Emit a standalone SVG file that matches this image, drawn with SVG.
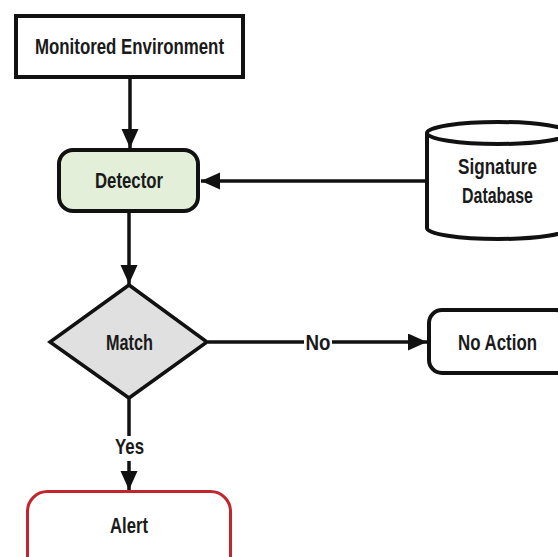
<svg xmlns="http://www.w3.org/2000/svg" width="558" height="557" viewBox="0 0 558 557">
<style>
text{font-family:"Liberation Sans",Arial,sans-serif;font-weight:bold;font-size:22px;fill:#1a1a1a;text-anchor:middle}
.node{stroke:#111;stroke-width:4;fill:#fff}
.conn{stroke:#111;stroke-width:3.5;fill:none}
.bg{fill:#fff}
</style>
<defs>
<marker id="ah" markerUnits="userSpaceOnUse" markerWidth="20" markerHeight="18" refX="19" refY="8.5" orient="auto">
<path d="M0,0 L19,8.5 L0,17 z" fill="#111"/>
</marker>
</defs>
<rect width="558" height="557" fill="#fff"/>
<g id="connectors">
<line class="conn" x1="130" y1="79" x2="130" y2="148" marker-end="url(#ah)"/>
<line class="conn" x1="426" y1="181" x2="201" y2="181" marker-end="url(#ah)"/>
<line class="conn" x1="129" y1="213" x2="129" y2="284" marker-end="url(#ah)"/>
<line class="conn" x1="208" y1="342" x2="427" y2="342" marker-end="url(#ah)"/>
<line class="conn" x1="129" y1="399" x2="129" y2="490" marker-end="url(#ah)"/>
<rect class="bg" x="304" y="332" width="28" height="20"/>
<text x="318" y="350" textLength="25" lengthAdjust="spacingAndGlyphs">No</text>
<rect class="bg" x="112" y="436" width="34" height="25"/>
<text x="129.5" y="454" textLength="29" lengthAdjust="spacingAndGlyphs">Yes</text>
</g>
<g id="monitored">
<rect class="node" x="16" y="16" width="227" height="61"/>
<text x="129.5" y="54" textLength="189" lengthAdjust="spacingAndGlyphs">Monitored Environment</text>
</g>
<g id="detector">
<rect class="node" x="59" y="150" width="139" height="61" rx="14" style="fill:#e3efd9"/>
<text x="129" y="188" textLength="68" lengthAdjust="spacingAndGlyphs">Detector</text>
</g>
<g id="database">
<path class="node" d="M427,133 L427,228 A71,11 0 0 0 569,228 L569,133"/>
<ellipse class="node" cx="498" cy="133" rx="71" ry="11"/>
<text x="497.5" y="174" textLength="79" lengthAdjust="spacingAndGlyphs">Signature</text>
<text x="497.5" y="203" textLength="71" lengthAdjust="spacingAndGlyphs">Database</text>
</g>
<g id="match">
<polygon class="node" points="129,285 207,342 129,398 50,342" style="fill:#e0e0e0;stroke-width:3.5"/>
<text x="129.5" y="350" textLength="47" lengthAdjust="spacingAndGlyphs">Match</text>
</g>
<g id="noaction">
<rect class="node" x="429" y="310" width="140" height="63" rx="13"/>
<text x="497.5" y="350" textLength="79" lengthAdjust="spacingAndGlyphs">No Action</text>
</g>
<g id="alert">
<rect class="node" x="27.5" y="491.5" width="203" height="85" rx="20" style="stroke:#c0262c;stroke-width:3"/>
<text x="129" y="533" textLength="38" lengthAdjust="spacingAndGlyphs">Alert</text>
</g>
</svg>
